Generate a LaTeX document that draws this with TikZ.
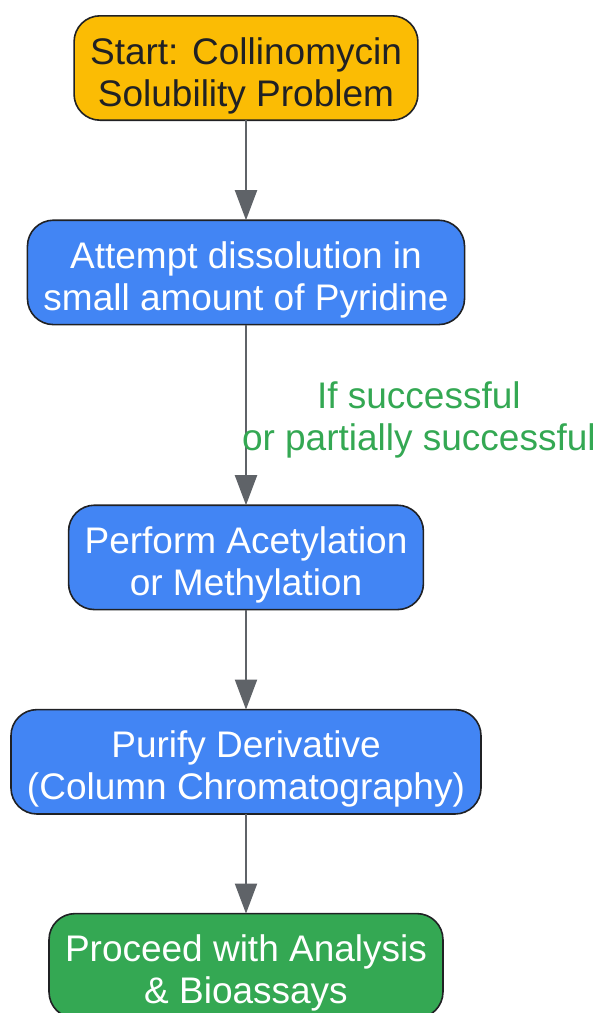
\documentclass[tikz,border=0pt]{standalone}
\usepackage{fontspec}
\setmainfont{Liberation Sans}
\usepackage{tikz}
\usetikzlibrary{arrows.meta,positioning}

\definecolor{startorange}{HTML}{FBBC04}
\definecolor{stepblue}{HTML}{4285F4}
\definecolor{endgreen}{HTML}{34A853}
\definecolor{edgegray}{HTML}{5F6368}
\definecolor{borderdark}{HTML}{202124}

\newcommand{\topgap}{\rule{0pt}{42pt}}

\begin{document}
\begin{tikzpicture}[
    x=1pt, y=1pt,
    node distance=100pt,
    box/.style={rectangle, draw=borderdark, line width=1.6pt, outer sep=0pt, rounded corners=26pt, minimum height=104.4pt, inner xsep=16pt, align=center, text=white, font=\fontsize{37}{42}\selectfont},
    arrow/.style={-{Triangle[length=30pt, width=22pt]}, line width=2pt, draw=edgegray},
    edgelabel/.style={text=endgreen, align=center, inner sep=0pt, font=\fontsize{37}{42}\selectfont}
]
\useasboundingbox (0,0) rectangle (600,-1013);

\node[box, fill=startorange, text=borderdark] (start) at (246,-68) {\topgap Start: Collinomycin\\Solubility Problem};
\node[box, fill=stepblue, below=of start] (dissolve) {\topgap Attempt dissolution in\\small amount of Pyridine};
\node[box, fill=stepblue, below=180.6pt of dissolve] (derive) {\topgap Perform Acetylation\\or Methylation};
\node[box, fill=stepblue, below=of derive] (purify) {\topgap Purify Derivative\\(Column Chromatography)};
\node[box, fill=endgreen, below=99.6pt of purify] (proceed) {\topgap Proceed with Analysis\\\& Bioassays};

\draw[arrow] (start) -- (dissolve);
\draw[arrow] (dissolve) -- node[edgelabel, midway, anchor=west, xshift=-5pt, yshift=-5pt] (cond) {If successful\\or partially successful} (derive);
\draw[arrow] (derive) -- (purify);
\draw[arrow] (purify) -- (proceed);

\end{tikzpicture}
\end{document}
